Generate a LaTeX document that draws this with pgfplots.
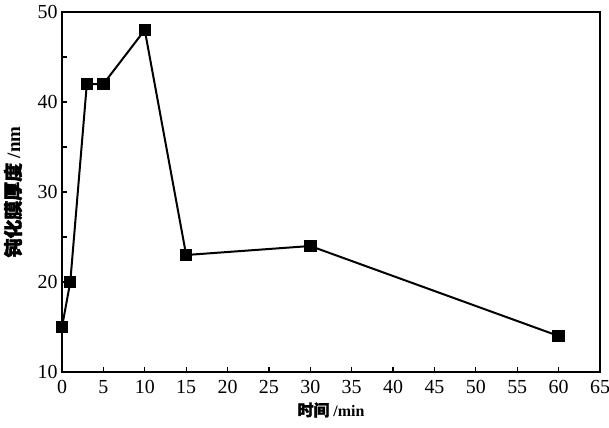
\documentclass[border=0pt]{standalone}
\usepackage{pgfplots}
\pgfplotsset{compat=1.18}
\usepackage{fontspec}
\setmainfont{Liberation Serif}
\newfontfamily\cjk{Noto Sans CJK SC}[FakeBold=2]
\begin{document}
\begin{tikzpicture}
\path[use as bounding box] (-62bp,-56bp) rectangle (547bp,372bp);
\begin{axis}[
  at={(0,0)}, anchor=south west,
  scale only axis,
  width=538bp, height=360bp,
  xmin=0, xmax=65, ymin=10, ymax=50,
  xtick={0,5,...,65}, ytick={10,20,...,50},
  minor ytick={15,25,35,45},
  tick pos=left,
  tick align=inside,
  major tick length=5bp, minor tick length=5bp,
  axis line style={line width=1.6bp},
  every tick/.style={line width=1.2bp, black},
  clip=false,
  /pgf/number format/assume math mode=true,
  ticklabel style={font=\fontsize{20}{20}\selectfont},
  xticklabel style={yshift=-5bp},
  yticklabel style={xshift=-1bp},
  xlabel={{\cjk 时间} /min},
  ylabel={{\cjk 钝化膜厚度} /nm},
  xlabel style={font=\fontsize{16}{16}\selectfont\bfseries, at={(axis description cs:0.5,0)}, anchor=center, yshift=-38bp},
  ylabel style={font=\fontsize{19}{19}\selectfont\bfseries, at={(axis description cs:0,0.5)}, anchor=center, yshift=49bp},
]
\addplot[black, line width=2bp, mark=square*, mark size=5.2bp, mark options={solid}]
coordinates {(0,15) (1,20) (3,42) (5,42) (10,48) (15,23) (30,24) (60,14)};
\end{axis}
\end{tikzpicture}
\end{document}
